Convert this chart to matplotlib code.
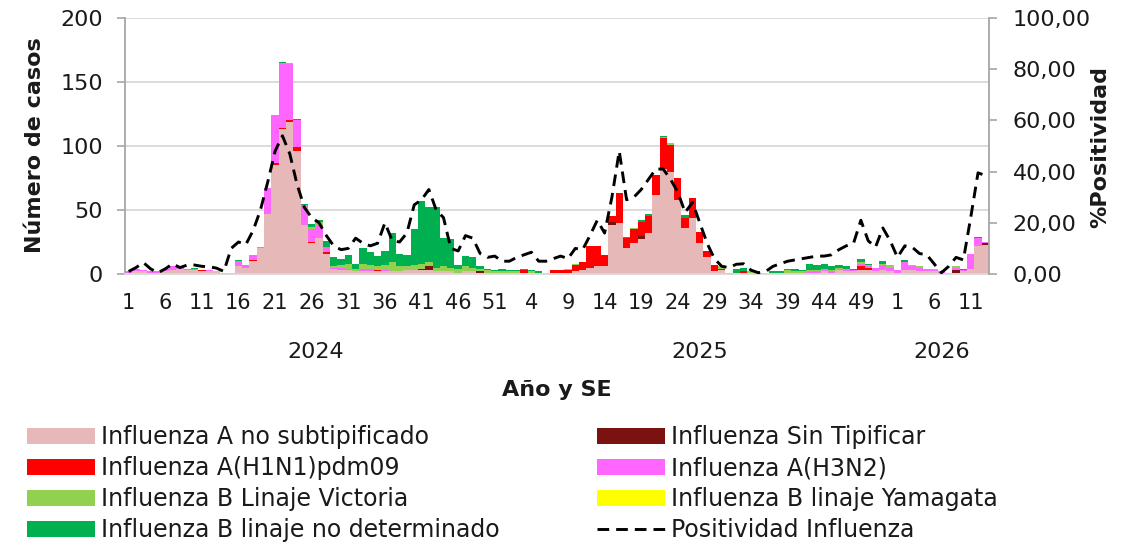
import matplotlib
matplotlib.use('Agg')
import matplotlib.pyplot as plt
import numpy as np
from matplotlib.patches import Patch
from matplotlib.lines import Line2D
from matplotlib.transforms import blended_transform_factory

plt.rcParams['font.family'] = ['DejaVu Sans']
TXT = '#1a1a1a'

# ---------------- data ----------------
years = ['2024', '2025', '2026']
weeks_per_year = [52, 53, 13]

a_no_subtip = [1,2,2,1,1,2,3,4,3,3,
               2,2,2,0,0,6,5,10,20,47,
               85,113,119,96,38,24,28,16,4,3,
               3,2,2,2,2,2,2,2,3,3,
               3,3,2,2,2,1,2,2,1,1,
               1,1,1,1,1,1,1,1,1,1,
               1,2,3,5,6,6,38,40,20,24,
               27,32,62,82,80,58,36,44,24,13,
               2,3,0,1,1,1,0,0,0,1,
               1,1,1,1,1,2,1,3,2,2,
               3,3,2,3,2,1,3,3,2,2,
               2,1,0,1,2,4,22,23]
sin_tipificar = [0,0,0,0,0,0,0,0,0,0,
                 0,0,0,0,0,0,0,0,0,0,
                 0,0,0,0,0,0,0,0,0,0,
                 0,0,0,0,0,0,0,0,0,0,
                 1,3,0,0,0,0,0,0,1,0,
                 0,0,0,0,0,0,0,0,0,0,
                 0,0,0,0,0,0,3,0,0,0,
                 3,0,0,0,0,0,0,0,0,0,
                 0,0,0,0,0,0,0,0,0,0,
                 0,0,0,0,0,0,0,0,0,0,
                 0,0,0,0,0,0,0,0,0,0,
                 0,0,0,2,0,0,0,1]
h1n1 = [0,0,0,0,0,0,0,0,0,0,
        1,0,0,0,0,0,0,1,0,0,
        2,1,1,3,0,1,0,1,0,0,
        0,0,0,0,1,0,0,0,0,0,
        0,0,0,0,0,0,0,0,0,0,
        0,0,0,0,2,0,0,0,2,2,
        2,5,6,17,16,9,4,23,8,11,
        11,13,15,24,21,17,8,15,9,5,
        5,1,0,0,1,0,0,0,0,0,
        0,0,0,0,0,0,0,0,0,0,
        3,2,0,0,0,0,0,0,0,0,
        0,0,0,0,0,0,0,0]
h3n2 = [1,2,1,1,1,2,3,2,1,1,
        0,1,0,1,1,4,2,4,1,20,
        37,51,44,21,16,10,10,4,1,2,
        1,0,2,2,0,1,0,0,0,0,
        0,0,0,0,0,0,0,0,0,0,
        0,0,0,0,0,0,0,0,0,0,
        0,0,0,0,0,0,0,0,0,0,
        0,0,0,1,0,0,0,0,0,0,
        0,0,0,0,0,0,0,0,0,0,
        0,0,0,1,1,1,1,1,1,1,
        2,1,3,4,3,2,6,3,3,2,
        1,1,1,2,1,12,6,1]
b_victoria = [0,0,0,0,0,0,0,0,0,0,
              0,0,0,0,0,0,0,0,0,0,
              0,0,1,0,0,2,3,0,1,2,
              4,2,4,3,3,4,7,4,3,4,
              4,3,3,4,3,3,4,3,2,2,
              1,1,1,1,0,1,0,0,0,0,
              1,1,0,0,0,0,0,0,0,1,
              0,0,0,0,1,0,0,0,0,0,
              0,2,0,0,0,1,1,0,1,0,
              2,1,1,1,1,1,1,1,1,0,
              1,1,0,1,2,0,0,1,1,0,
              1,0,0,1,0,0,0,0]
b_yamagata = [0] * 118
b_no_det = [0,0,0,0,0,0,0,0,0,1,
            0,0,0,0,0,1,0,0,0,0,
            0,1,0,1,1,2,1,5,7,5,
            7,4,12,10,8,11,23,10,9,28,
            49,43,47,22,22,3,8,8,2,1,
            1,2,1,1,1,1,1,0,0,0,
            0,0,0,0,0,0,0,0,1,0,
            1,2,0,1,0,0,2,0,0,0,
            0,0,1,3,3,0,0,0,1,1,
            1,2,1,5,4,4,3,2,2,1,
            3,1,0,2,0,0,2,0,0,0,
            0,0,0,0,1,0,1,0]
positividad = [1,2.5,4.5,2,0.5,2,4,2.5,3.5,3.5,
               3,2.8,2.3,1,10,12.5,11.5,17,25,36,
               48,54,47,35,26,22,20,15,11,9.5,
               10,14,12,11,12,20,13,12.5,16,27,
               29,33,25,22,10,9,15,14,8,6.5,
               7,5,5,6.5,7.5,8.5,5,5,6,7,
               6,10,9.5,15,21,16,30,48,29,30,
               33,37,41,41,37,32,24,28,20,12,
               6,3,2.5,3.8,4,1.5,0.5,1,3,4,
               5,5.5,6,6.5,7,7,7.5,9.5,11,12,
               21,13,10.5,18,13,6.5,11,10.5,8,7.5,
               4,0.5,3,6.5,5.5,22,39.5,38.5]

series = [
    ('Influenza A no subtipificado', a_no_subtip, '#E6B8B7'),
    ('Influenza Sin Tipificar', sin_tipificar, '#7B1212'),
    ('Influenza A(H1N1)pdm09', h1n1, '#FF0000'),
    ('Influenza A(H3N2)', h3n2, '#FF66FF'),
    ('Influenza B Linaje Victoria', b_victoria, '#92D050'),
    ('Influenza B linaje Yamagata', b_yamagata, '#FFFF00'),
    ('Influenza B linaje no determinado', b_no_det, '#00B050'),
]
pos_label = 'Positividad Influenza'

# week labels per bar
week_labels = []
year_of_bar = []
for y, nw in zip(years, weeks_per_year):
    for w in range(1, nw + 1):
        week_labels.append(str(w))
        year_of_bar.append(y)
n = len(week_labels)

# ---------------- figure ----------------
W, H = 1129, 544
fig = plt.figure(figsize=(W / 100, H / 100), dpi=100)
ax = fig.add_axes([125 / W, 1 - 274 / H, 864 / W, 256 / H])

x = np.arange(n)
bottom = np.zeros(n)
for label, vals, color in series:
    v = np.array(vals, dtype=float)
    ax.bar(x, v, width=1.0, bottom=bottom, color=color, linewidth=0, label=label, zorder=2)
    bottom += v

ax.set_xlim(-0.5, n - 0.5)
ax.set_ylim(0, 200)
ax.set_yticks([0, 50, 100, 150, 200])
ax.yaxis.grid(True, color='#D9D9D9', lw=1.3)
ax.set_axisbelow(True)
for s in ['top', 'right']:
    ax.spines[s].set_visible(False)
ax.spines['left'].set_color('#A6A6A6')
ax.spines['left'].set_linewidth(1.3)
ax.spines['bottom'].set_color('#D9D9D9')
ax.spines['bottom'].set_linewidth(1.3)
ax.tick_params(axis='y', length=6, width=1.2, color='#A6A6A6', pad=10,
               labelsize=16, labelcolor=TXT)
tick_pos = list(range(0, n, 5))
ax.set_xticks(tick_pos)
ax.set_xticklabels([week_labels[i] for i in tick_pos])
ax.tick_params(axis='x', length=0, pad=14, labelsize=15, labelcolor=TXT)

# year labels
trans = blended_transform_factory(ax.transData, ax.transAxes)
start = 0
for y, nw in zip(years, weeks_per_year):
    center = start + (nw - 1) / 2
    ax.text(center, -0.305, y, transform=trans, ha='center', va='center',
            fontsize=16, color=TXT)
    start += nw

ax2 = ax.twinx()
ax2.plot(x, positividad, color='black', lw=2.1, dashes=(4, 2.4), zorder=5)
ax2.set_ylim(0, 100)
ax2.set_yticks(range(0, 101, 20))
ax2.set_yticklabels([f'{v:.2f}'.replace('.', ',') for v in range(0, 101, 20)])
for s in ['top', 'left', 'bottom']:
    ax2.spines[s].set_visible(False)
ax2.spines['right'].set_color('#A6A6A6')
ax2.spines['right'].set_linewidth(1.3)
ax2.tick_params(axis='y', length=6, width=1.2, color='#A6A6A6', pad=11,
                labelsize=16, labelcolor=TXT)

fig.text(35 / W, 1 - 145 / H, 'Número de casos', rotation=90, ha='center', va='center',
         fontsize=16, fontweight='bold', color=TXT)
fig.text(1100 / W, 1 - 147 / H, '%Positividad', rotation=90, ha='center', va='center',
         fontsize=16, fontweight='bold', color=TXT)
fig.text(557 / W, 1 - 390 / H, 'Año y SE', ha='center', va='center',
         fontsize=16, fontweight='bold', color=TXT)

# legends (two columns, row-major as in reference)
h = {lab: Patch(facecolor=c, edgecolor='none') for lab, _, c in series}
hline = Line2D([0], [0], color='black', lw=2.1, dashes=(4, 2.4))
col1 = ['Influenza A no subtipificado', 'Influenza A(H1N1)pdm09',
        'Influenza B Linaje Victoria', 'Influenza B linaje no determinado']
col2 = ['Influenza Sin Tipificar', 'Influenza A(H3N2)', 'Influenza B linaje Yamagata']
common = dict(loc='upper left', frameon=False, borderpad=0, borderaxespad=0,
              fontsize=17, handlelength=2.88, handleheight=0.64,
              handletextpad=0.25, labelspacing=0.30, labelcolor=TXT)
fig.legend([h[l] for l in col1], col1, bbox_to_anchor=(27 / W, 1 - 425 / H), **common)
fig.legend([h[l] for l in col2] + [hline], col2 + [pos_label],
           bbox_to_anchor=(597 / W, 1 - 425 / H), **common)

fig.savefig('out.png', dpi=100)
